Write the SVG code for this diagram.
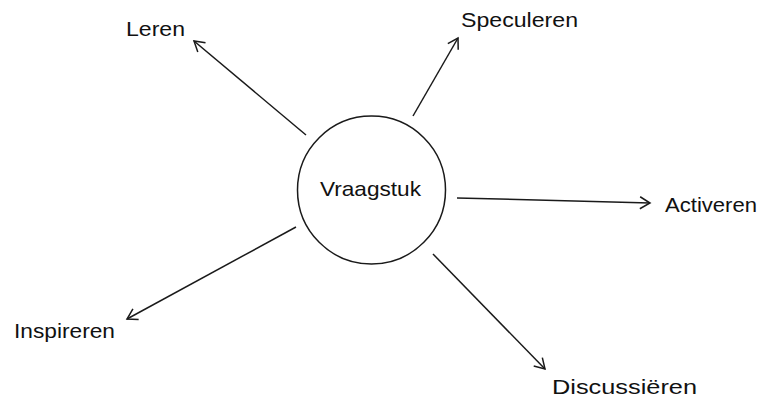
<svg xmlns="http://www.w3.org/2000/svg" width="763" height="400" viewBox="0 0 763 400">
<style>
.lbl{font-family:"Liberation Sans",Arial,sans-serif;font-size:21px;fill:#111;}
.edge{stroke:#1a1a1a;stroke-width:1.5;fill:none;marker-end:url(#arr);}
</style>
<defs>
<marker id="arr" markerUnits="userSpaceOnUse" markerWidth="14" markerHeight="16" refX="11" refY="7" viewBox="0 0 14 14" orient="auto">
<path d="M1,1 L11,7 L1,13" fill="none" stroke="#1a1a1a" stroke-width="1.5"/>
</marker>
</defs>
<rect width="763" height="400" fill="#fff"/>
<g id="connectors">
<line class="edge" x1="306" y1="135" x2="194" y2="41"/>
<line class="edge" x1="413" y1="116" x2="458" y2="38"/>
<line class="edge" x1="457" y1="198" x2="650" y2="203"/>
<line class="edge" x1="296" y1="227" x2="127" y2="319"/>
<line class="edge" x1="433" y1="254" x2="545" y2="369"/>
</g>
<g id="vraagstuk">
<circle cx="371.5" cy="190" r="74" fill="#fff" stroke="#1a1a1a" stroke-width="1.5"/>
<text class="lbl" x="320" y="196" textLength="101" lengthAdjust="spacingAndGlyphs">Vraagstuk</text>
</g>
<g id="leren"><text class="lbl" x="126" y="36" textLength="59" lengthAdjust="spacingAndGlyphs">Leren</text></g>
<g id="speculeren"><text class="lbl" x="461" y="27" textLength="117" lengthAdjust="spacingAndGlyphs">Speculeren</text></g>
<g id="activeren"><text class="lbl" x="665" y="212" textLength="92" lengthAdjust="spacingAndGlyphs">Activeren</text></g>
<g id="inspireren"><text class="lbl" x="14" y="338" textLength="101" lengthAdjust="spacingAndGlyphs">Inspireren</text></g>
<g id="discussieren"><text class="lbl" x="552" y="394" textLength="145" lengthAdjust="spacingAndGlyphs">Discussiëren</text></g>
</svg>
